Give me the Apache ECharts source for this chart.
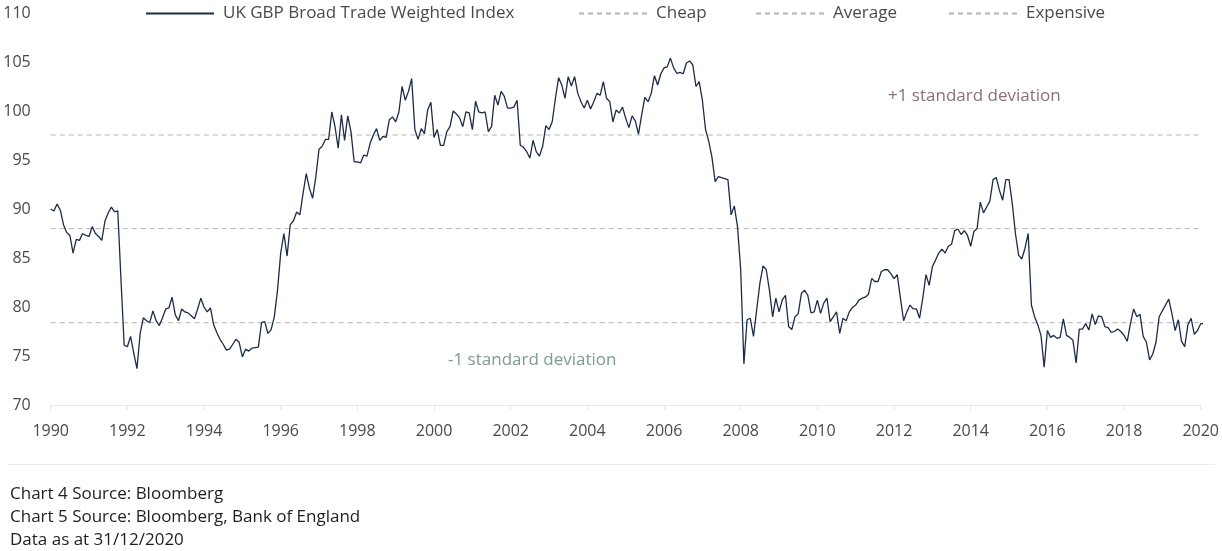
<!DOCTYPE html>
<html>
<head>
<meta charset="utf-8">
<script src="https://cdn.jsdelivr.net/npm/echarts@6/dist/echarts.min.js"></script>
<style>
html,body{margin:0;padding:0;background:#fff;}
#chart{width:1222px;height:551px;}
</style>
</head>
<body>
<div id="chart"></div>
<script>
// ---- Data (monthly, starting January 1990) ----
const startYear = 1990;
const seriesName = 'UK GBP Broad Trade Weighted Index';
const monthlyIndex = [
  90.0, 89.8, 90.5, 89.9, 88.4, 87.6, 87.3, 85.5, 86.9, 86.8, 87.5, 87.3,
  87.2, 88.2, 87.5, 87.2, 86.8, 88.8, 89.6, 90.2, 89.7, 89.8, 82.8, 76.1,
  75.95, 77.0, 75.3, 73.7, 77.3, 78.9, 78.6, 78.4, 79.6, 78.6, 78.1, 78.9,
  79.8, 79.9, 81.0, 79.2, 78.6, 79.8, 79.5, 79.4, 79.1, 78.8, 79.8, 80.9,
  80.0, 79.5, 79.9, 78.2, 77.4, 76.7, 76.2, 75.6, 75.7, 76.2, 76.7, 76.4,
  74.9, 75.7, 75.5, 75.8, 75.85, 75.9, 78.4, 78.5, 77.3, 77.7, 79.0, 81.7,
  85.5, 87.5, 85.2, 88.4, 88.8, 89.7, 89.4, 91.6, 93.6, 92.1, 91.1, 93.3,
  96.1, 96.4, 97.1, 97.1, 99.9, 98.4, 96.2, 99.6, 97.0, 99.5, 97.9, 94.8,
  94.8, 94.7, 95.5, 95.4, 96.7, 97.55, 98.2, 97.0, 97.4, 97.3, 99.1, 99.4,
  98.9, 99.9, 102.5, 101.1, 102.0, 103.3, 98.1, 97.1, 98.2, 97.7, 100.1, 100.9,
  97.3, 98.1, 96.5, 96.5, 97.9, 98.4, 100.0, 99.7, 99.3, 98.4, 99.9, 99.8,
  98.1, 101.0, 99.9, 99.8, 99.9, 97.9, 98.4, 101.6, 100.6, 102.0, 101.5, 100.3,
  100.3, 100.4, 101.1, 96.5, 96.3, 95.85, 95.2, 97.0, 95.85, 95.4, 96.4, 98.5,
  98.1, 98.9, 101.3, 103.4, 102.65, 101.3, 103.5, 102.55, 103.5, 101.8, 100.95, 100.3,
  101.1, 100.2, 100.95, 101.8, 101.6, 103.0, 101.3, 100.95, 98.9, 100.1, 99.8, 100.4,
  99.25, 98.3, 99.5, 99.0, 97.65, 99.6, 101.4, 100.95, 101.8, 103.6, 102.65, 103.8,
  104.4, 104.5, 105.4, 104.4, 103.85, 103.95, 103.8, 104.9, 105.1, 104.7, 102.5, 103.0,
  101.1, 98.1, 96.9, 95.3, 92.8, 93.3, 93.2, 93.1, 93.0, 89.4, 90.3, 88.2,
  83.8, 74.2, 78.7, 78.85, 77.0, 79.7, 82.4, 84.2, 83.8, 81.7, 79.0, 80.9,
  79.5, 80.7, 81.2, 78.0, 77.7, 79.0, 79.3, 81.4, 81.7, 81.2, 79.4, 79.5,
  80.7, 79.35, 80.4, 80.9, 78.5, 79.0, 79.5, 77.3, 78.85, 78.6, 79.5, 79.95,
  80.2, 80.7, 80.9, 81.0, 81.3, 82.9, 82.6, 82.6, 83.6, 83.8, 83.8, 83.4,
  82.9, 83.3, 80.9, 78.6, 79.5, 80.2, 79.8, 79.8, 78.85, 80.9, 83.3, 82.2,
  84.1, 84.8, 85.5, 85.9, 85.5, 86.2, 86.4, 87.8, 87.96, 87.4, 87.8, 87.3,
  86.2, 87.7, 88.0, 90.7, 89.6, 90.2, 90.8, 93.0, 93.2, 91.9, 90.9, 93.0,
  93.0, 90.6, 87.5, 85.3, 84.9, 86.0, 87.5, 80.2, 79.0, 78.2, 77.1, 73.85,
  77.6, 76.9, 77.1, 76.8, 76.9, 78.8, 77.1, 76.9, 76.6, 74.3, 77.75, 77.75,
  78.3, 77.65, 79.3, 78.2, 79.1, 79.0, 78.0, 77.9, 77.4, 77.5, 77.75, 77.5,
  77.1, 76.5, 78.3, 79.8, 79.0, 79.25, 77.0, 76.4, 74.6, 75.2, 76.4, 79.0,
  79.6, 80.2, 80.8, 79.3, 77.6, 78.7, 76.5, 75.95, 78.2, 78.85, 77.2, 77.6,
  78.3, 78.3
];
const levelNames = ['Cheap', 'Average', 'Expensive'];
const levelValues = [78.4, 88.0, 97.55];
const xRange = [1990, 2020];
const yRange = [70, 110];
const noteUpper = '+1 standard deviation';
const noteLower = '-1 standard deviation';
const footnotes = ['Chart 4 Source: Bloomberg', 'Chart 5 Source: Bloomberg, Bank of England', 'Data as at 31/12/2020'];

const FONT = '"Open Sans", "Noto Sans", sans-serif';
const chart = echarts.init(document.getElementById('chart'), null, {renderer: 'canvas'});

const mainData = monthlyIndex.map((v, i) => [startYear + i / 12, v]);

const series = [{
  name: seriesName,
  type: 'line',
  data: mainData,
  showSymbol: false,
  symbol: 'none',
  clip: false,
  lineStyle: {color: '#1d2b47', width: 1.3},
  itemStyle: {color: '#1d2b47'},
  z: 5
}];
levelNames.forEach((n, k) => {
  series.push({
    name: n,
    type: 'line',
    data: [[xRange[0], levelValues[k]], [xRange[1], levelValues[k]]],
    symbol: 'none',
    showSymbol: false,
    lineStyle: {color: '#b4b4b4', width: 1, type: [5, 4]},
    itemStyle: {color: '#b4b4b4'},
    silent: true,
    z: 2
  });
});

const legendLefts = [140, 573, 750, 943];
const legendNames = [seriesName].concat(levelNames);
const legends = legendNames.map((n, k) => ({
  data: [n],
  left: legendLefts[k],
  top: 0,
  itemWidth: 68,
  itemHeight: 12,
  itemStyle: {opacity: 0},
  textStyle: {fontFamily: FONT, fontSize: 17, color: '#4a4a4a', padding: [0, 0, 0, 4]},
  selectedMode: false
}));

const option = {
  backgroundColor: '#ffffff',
  animation: false,
  textStyle: {fontFamily: FONT},
  legend: legends,
  grid: {left: 50.7, right: 17.8, top: 13, bottom: 146, containLabel: false},
  xAxis: {
    type: 'value',
    min: xRange[0],
    max: xRange[1],
    interval: 2,
    axisLine: {show: true, lineStyle: {color: '#e6e6e6', width: 1}},
    axisTick: {show: true, length: 5, lineStyle: {color: '#e3e3e3'}},
    splitLine: {show: false},
    axisLabel: {
      color: '#4a4a4a', fontSize: 16, fontFamily: FONT, margin: 18,
      formatter: v => (Math.abs(v - Math.round(v)) < 1e-6 ? String(Math.round(v)) : '')
    }
  },
  yAxis: {
    type: 'value',
    min: yRange[0],
    max: yRange[1],
    interval: 5,
    axisLine: {show: false},
    axisTick: {show: false},
    splitLine: {show: false},
    axisLabel: {color: '#4a4a4a', fontSize: 16, fontFamily: FONT, margin: 20}
  },
  series: series,
  graphic: [
    {type: 'text', left: 888, top: 88, style: {text: noteUpper, fill: '#8a6f7a', fontSize: 17, fontFamily: FONT}},
    {type: 'text', left: 448, top: 352, style: {text: noteLower, fill: '#7c9d8c', fontSize: 17, fontFamily: FONT}},
    {type: 'line', shape: {x1: 8, y1: 464.5, x2: 1215, y2: 464.5}, style: {stroke: '#ebebeb', lineWidth: 1}},
    {type: 'text', left: 10, top: 486, style: {text: footnotes[0], fill: '#1e1e1e', fontSize: 17, fontFamily: FONT}},
    {type: 'text', left: 10, top: 509, style: {text: footnotes[1], fill: '#1e1e1e', fontSize: 17, fontFamily: FONT}},
    {type: 'text', left: 10, top: 532, style: {text: footnotes[2], fill: '#1e1e1e', fontSize: 17, fontFamily: FONT}}
  ]
};
chart.setOption(option);
</script>
</body>
</html>
